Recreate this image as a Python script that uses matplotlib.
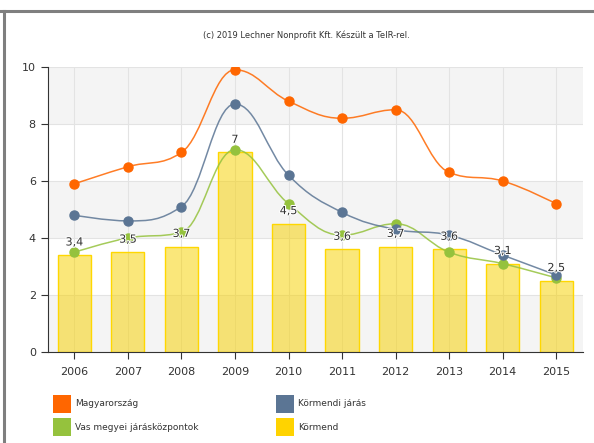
import matplotlib
matplotlib.use('Agg')
import matplotlib.pyplot as plt
import matplotlib.patheffects as pe
from matplotlib.path import Path
from matplotlib.patches import PathPatch, Rectangle
from matplotlib.lines import Line2D
import numpy as np

years = ['2006', '2007', '2008', '2009', '2010', '2011', '2012', '2013', '2014', '2015']
magyarorszag = [5.9, 6.5, 7.0, 9.9, 8.8, 8.2, 8.5, 6.3, 6.0, 5.2]
kormendi_jaras = [4.8, 4.6, 5.1, 8.7, 6.2, 4.9, 4.3, 4.1, 3.4, 2.7]
vas_megyei = [3.5, 4.0, 4.2, 7.1, 5.2, 4.1, 4.5, 3.5, 3.1, 2.6]
kormend = [3.4, 3.5, 3.7, 7.0, 4.5, 3.6, 3.7, 3.6, 3.1, 2.5]
kormend_labels = ['3,4', '3,5', '3,7', '7', '4,5', '3,6', '3,7', '3,6', '3,1', '2,5']

series_names = ['Magyarország', 'Körmendi járás', 'Vas megyei járásközpontok', 'Körmend']
colors = ['#FF6600', '#5B7594', '#95C23D', '#FFD300']


def spline_path(xs, ys, smoothing=1.5):
    # highcharts-style spline: cubic bezier with computed control points
    n = len(xs)
    verts = [(xs[0], ys[0])]
    codes = [Path.MOVETO]
    left = [None] * n
    right = [None] * n
    for i in range(n):
        x, y = xs[i], ys[i]
        if i == 0 or i == n - 1:
            left[i] = (x, y)
            right[i] = (x, y)
            continue
        lx, ly = xs[i - 1], ys[i - 1]
        nx, ny = xs[i + 1], ys[i + 1]
        d = smoothing + 1
        lcx = (smoothing * x + lx) / d
        lcy = (smoothing * y + ly) / d
        rcx = (smoothing * x + nx) / d
        rcy = (smoothing * y + ny) / d
        corr = (rcy - lcy) * (rcx - x) / (rcx - lcx) + y - rcy
        lcy += corr
        rcy += corr
        if lcy > ly and lcy > y:
            lcy = max(ly, y)
            rcy = 2 * y - lcy
        elif lcy < ly and lcy < y:
            lcy = min(ly, y)
            rcy = 2 * y - lcy
        if rcy > ny and rcy > y:
            rcy = max(ny, y)
            lcy = 2 * y - rcy
        elif rcy < ny and rcy < y:
            rcy = min(ny, y)
            lcy = 2 * y - rcy
        left[i] = (lcx, lcy)
        right[i] = (rcx, rcy)
    for i in range(1, n):
        verts += [right[i - 1], left[i], (xs[i], ys[i])]
        codes += [Path.CURVE4] * 3
    return Path(verts, codes)


fig = plt.figure(figsize=(5.94, 4.43), dpi=100)
ax = fig.add_axes([0.0801, 0.2054, 0.9014, 0.6434])

x = np.arange(len(years))

# alternating bands
for lo in range(0, 10, 4):
    ax.axhspan(lo, lo + 2, color='#F4F4F4', zorder=0, lw=0)

ax.set_axisbelow(True)
ax.grid(True, color='#E3E3E3', lw=0.8)

ax.bar(x, kormend, width=0.62, facecolor=(0.97, 0.82, 0.0, 0.52), edgecolor='#FFD700',
       linewidth=1.0, zorder=2)
for xi, v, lab in zip(x, kormend, kormend_labels):
    ax.annotate(lab, (xi, v), xytext=(0, 5.5), textcoords='offset points', ha='center',
                va='bottom', fontsize=8, color='#333333', zorder=6,
                path_effects=[pe.withStroke(linewidth=1.5, foreground='white')])

for vals, col, z in [(vas_megyei, colors[2], 3), (kormendi_jaras, colors[1], 4),
                     (magyarorszag, colors[0], 5)]:
    p = spline_path(list(x), vals)
    ax.add_patch(PathPatch(p, facecolor='none', edgecolor=col, lw=1.1, zorder=z, alpha=0.85))
    ax.plot(x, vals, 'o', color=col, markersize=6.5, zorder=z + 0.5)

ax.set_xlim(-0.5, 9.5)
ax.set_ylim(0, 10)
ax.set_yticks([0, 2, 4, 6, 8, 10])
ax.set_xticks(x)
ax.set_xticklabels(years)
ax.tick_params(axis='both', labelsize=8, colors='#333333', length=5, width=0.8)
ax.tick_params(axis='x', pad=6)
for s in ['top', 'right']:
    ax.spines[s].set_visible(False)
for s in ['left', 'bottom']:
    ax.spines[s].set_color('#333333')
    ax.spines[s].set_linewidth(0.8)

fig.text(0.515, 0.92, '(c) 2019 Lechner Nonprofit Kft. Készült a TeIR-rel.',
         ha='center', va='center', fontsize=6, color='#333333')

# legend, two columns
W, H = 594, 443
for i, (name, col) in enumerate(zip(series_names, colors)):
    cx = [53, 276][i % 2]
    cy = [404, 427][i // 2]
    fig.add_artist(Rectangle((cx / W, 1 - (cy + 9) / H), 18 / W, 18 / H,
                             transform=fig.transFigure, facecolor=col, edgecolor='none'))
    fig.text((cx + 22) / W, 1 - cy / H, name, ha='left', va='center', fontsize=6.5,
             color='#333333')

# frame border
fig.add_artist(Line2D([0, 1], [1 - 11 / H, 1 - 11 / H], transform=fig.transFigure,
                      color='#7F7F7F', lw=2.2))
fig.add_artist(Line2D([3.5 / W, 3.5 / W], [0, 1 - 11 / H], transform=fig.transFigure,
                      color='#7F7F7F', lw=2.2))

fig.savefig('out.png', dpi=100)
